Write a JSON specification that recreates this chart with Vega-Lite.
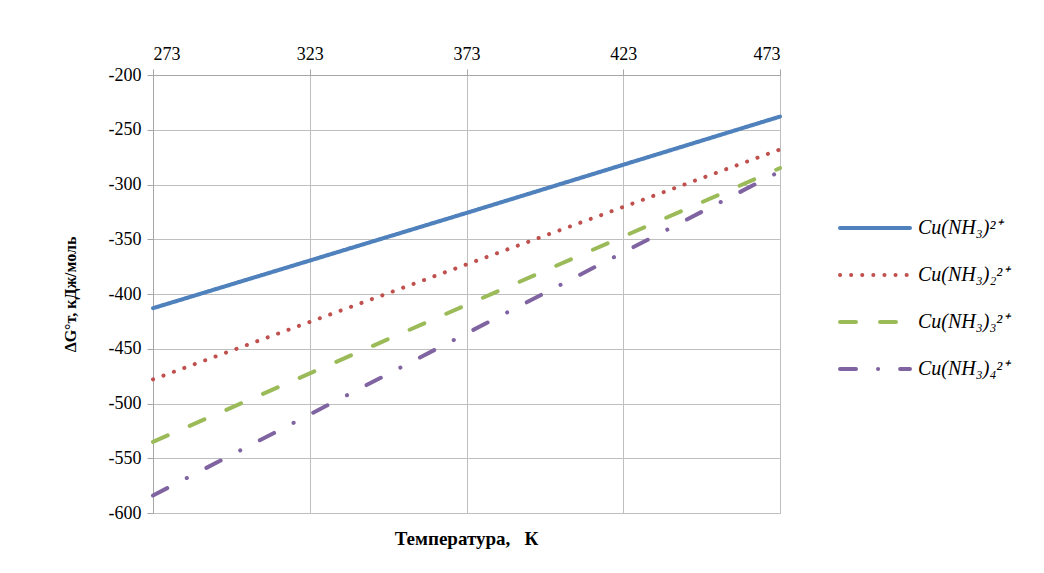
{
  "$schema": "https://vega.github.io/schema/vega-lite/v6.json",
  "width": 627,
  "height": 438,
  "autosize": "none",
  "padding": {"left": 153, "top": 75, "right": 264, "bottom": 60},
  "background": "white",
  "data": {
    "values": [
      {"s": "Cu(NH₃)²⁺", "T": 273, "G": -413},
      {"s": "Cu(NH₃)²⁺", "T": 373, "G": -326},
      {"s": "Cu(NH₃)²⁺", "T": 473, "G": -238},
      {"s": "Cu(NH₃)₂²⁺", "T": 273, "G": -478},
      {"s": "Cu(NH₃)₂²⁺", "T": 373, "G": -373},
      {"s": "Cu(NH₃)₂²⁺", "T": 473, "G": -268},
      {"s": "Cu(NH₃)₃²⁺", "T": 273, "G": -535},
      {"s": "Cu(NH₃)₃²⁺", "T": 373, "G": -410},
      {"s": "Cu(NH₃)₃²⁺", "T": 473, "G": -285},
      {"s": "Cu(NH₃)₄²⁺", "T": 273, "G": -584},
      {"s": "Cu(NH₃)₄²⁺", "T": 373, "G": -436},
      {"s": "Cu(NH₃)₄²⁺", "T": 473, "G": -288}
    ]
  },
  "title": {
    "text": "Температура,\u00a0\u00a0 К",
    "orient": "bottom",
    "font": "Liberation Serif",
    "fontSize": 19,
    "fontWeight": "bold",
    "color": "black",
    "offset": 8,
    "anchor": "middle"
  },
  "mark": {"type": "line", "strokeWidth": 4, "strokeCap": "round"},
  "encoding": {
    "x": {
      "field": "T",
      "type": "quantitative",
      "scale": {"domain": [273, 473], "nice": false, "zero": false},
      "axis": {
        "orient": "top",
        "values": [273, 323, 373, 423, 473],
        "title": null,
        "labelFont": "Liberation Serif",
        "labelFontSize": 18,
        "labelColor": "black",
        "labelPadding": 6,
        "tickSize": 6,
        "tickColor": "#A6A6A6",
        "domainColor": "#A6A6A6",
        "gridColor": "#BFBFBF"
      }
    },
    "y": {
      "field": "G",
      "type": "quantitative",
      "scale": {"domain": [-600, -200], "nice": false, "zero": false},
      "axis": {
        "values": [-600, -550, -500, -450, -400, -350, -300, -250, -200],
        "labelExpr": "replace(datum.label, '−', '-')",
        "title": "ΔG°т, кДж/моль",
        "titleFont": "Liberation Serif",
        "titleFontSize": 16,
        "titleFontWeight": "bold",
        "titleColor": "black",
        "titlePadding": 30,
        "labelFont": "Liberation Serif",
        "labelFontSize": 18,
        "labelColor": "black",
        "labelPadding": 6,
        "tickSize": 6,
        "tickColor": "#A6A6A6",
        "domainColor": "#A6A6A6",
        "gridColor": "#BFBFBF"
      }
    },
    "color": {
      "field": "s",
      "type": "nominal",
      "scale": {
        "domain": ["Cu(NH₃)²⁺", "Cu(NH₃)₂²⁺", "Cu(NH₃)₃²⁺", "Cu(NH₃)₄²⁺"],
        "range": ["#4F81BD", "#C0504D", "#9BBB59", "#8064A2"]
      },
      "legend": {
        "title": null,
        "orient": "none",
        "legendX": 685,
        "legendY": 116,
        "symbolType": "stroke",
        "symbolSize": 4900,
        "symbolStrokeWidth": 4,
        "labelFont": "Liberation Serif",
        "labelFontStyle": "italic",
        "labelFontSize": 20,
        "labelColor": "black",
        "labelOffset": 6,
        "rowPadding": -22,
        "labelLimit": 300,
        "encode": {
          "symbols": {"update": {"strokeCap": {"value": "round"}}}
        }
      }
    },
    "strokeDash": {
      "field": "s",
      "type": "nominal",
      "scale": {
        "domain": ["Cu(NH₃)²⁺", "Cu(NH₃)₂²⁺", "Cu(NH₃)₃²⁺", "Cu(NH₃)₄²⁺"],
        "range": [[1, 0], [0.1, 11], [16, 24], [16, 22, 0.1, 22]]
      }
    }
  },
  "config": {
    "view": {"stroke": "#A6A6A6"}
  }
}
